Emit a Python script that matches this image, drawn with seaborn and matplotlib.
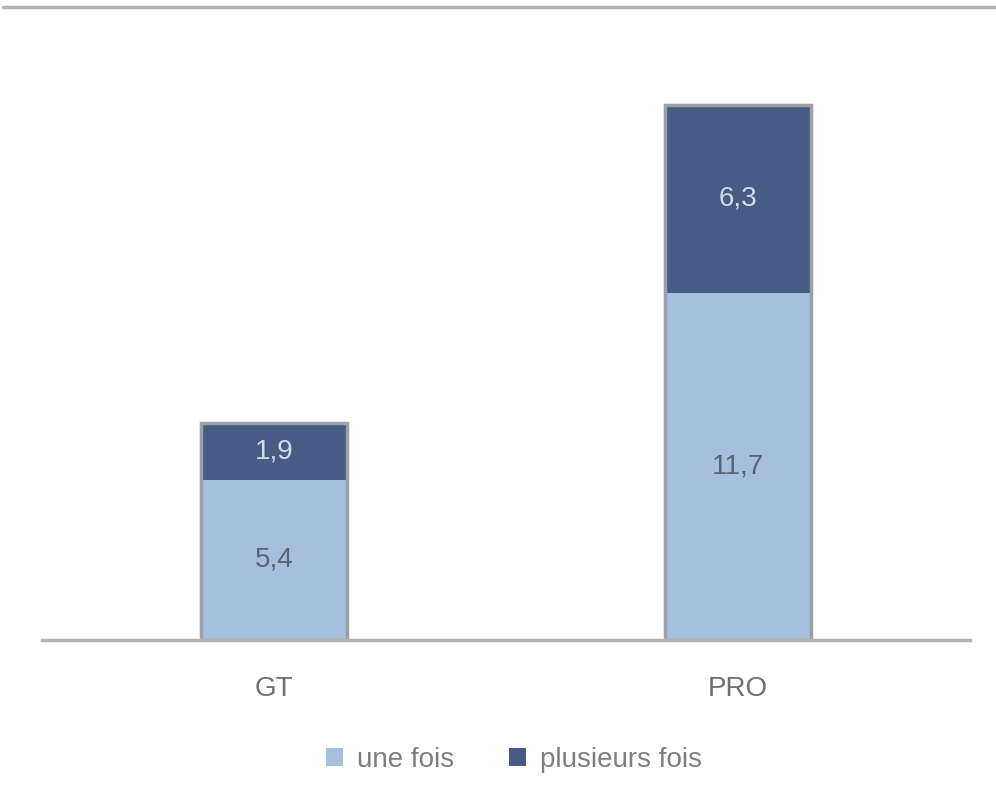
import matplotlib
matplotlib.use("Agg")
import matplotlib.pyplot as plt
import seaborn as sns
import pandas as pd
from matplotlib.lines import Line2D
from matplotlib.patches import Patch

# ==========================================
# DATA
# ==========================================
categories = ["GT", "PRO"]
une_fois = [5.4, 11.7]
plusieurs_fois = [1.9, 6.3]
series_names = ["une fois", "plusieurs fois"]

LIGHT = "#a7bfdf"
DARK = "#475b85"
EDGE = "#9c9fa8"
TEXT = "#7f7f7f"

sns.set_theme(style="white")
plt.rcParams["font.family"] = ["Liberation Sans", "DejaVu Sans"]

df = pd.DataFrame({"cat": categories, "une": une_fois, "plus": plusieurs_fois})
df["total"] = df["une"] + df["plus"]

fig = plt.figure(figsize=(9.96, 8.08), dpi=100)
ax = fig.add_axes([0.0422, 0.208, 0.9317, 0.735])

width = 0.315
# full stack in dark, lower segment in light on top
sns.barplot(data=df, x="cat", y="total", color=DARK, saturation=1,
            width=width, linewidth=0, ax=ax)
sns.barplot(data=df, x="cat", y="une", color=LIGHT, saturation=1,
            width=width, linewidth=0, ax=ax)
# outer outline of each stack
ax.bar(range(len(df)), df["total"], width=width, fill=False,
       edgecolor=EDGE, linewidth=2.5)

for i, row in df.iterrows():
    ax.text(i, row["une"] / 2, f"{row['une']:.1f}".replace(".", ","),
            ha="center", va="center", fontsize=20, color="#5b6372")
    ax.text(i, row["une"] + row["plus"] / 2, f"{row['plus']:.1f}".replace(".", ","),
            ha="center", va="center", fontsize=20, color="#d3dae8")

ax.set_ylim(0, 20)
ax.set_xlim(-0.5, 1.5)
ax.set_xlabel("")
ax.set_ylabel("")
ax.set_yticks([])
ax.tick_params(axis="x", length=0, labelsize=20, labelcolor="#6f6f6f", pad=26)
for side in ["top", "right", "left"]:
    ax.spines[side].set_visible(False)
ax.spines["bottom"].set_color("#b3b3b3")
ax.spines["bottom"].set_linewidth(2.5)
ax.set_zorder(1)

# chart frame top line
fig.add_artist(Line2D([0.003, 1.0], [0.9915, 0.9915], transform=fig.transFigure,
                      color="#b3b3b3", linewidth=2.5))

handles = [Patch(facecolor=LIGHT, edgecolor="none"), Patch(facecolor=DARK, edgecolor="none")]
fig.legend(handles, series_names, loc="center", bbox_to_anchor=(0.516, 0.060),
           ncol=2, frameon=False, fontsize=20, labelcolor=TEXT,
           handlelength=0.6, handleheight=0.6, handletextpad=0.5, columnspacing=2.0)

plt.savefig("out.png", dpi=100)
plt.close()
